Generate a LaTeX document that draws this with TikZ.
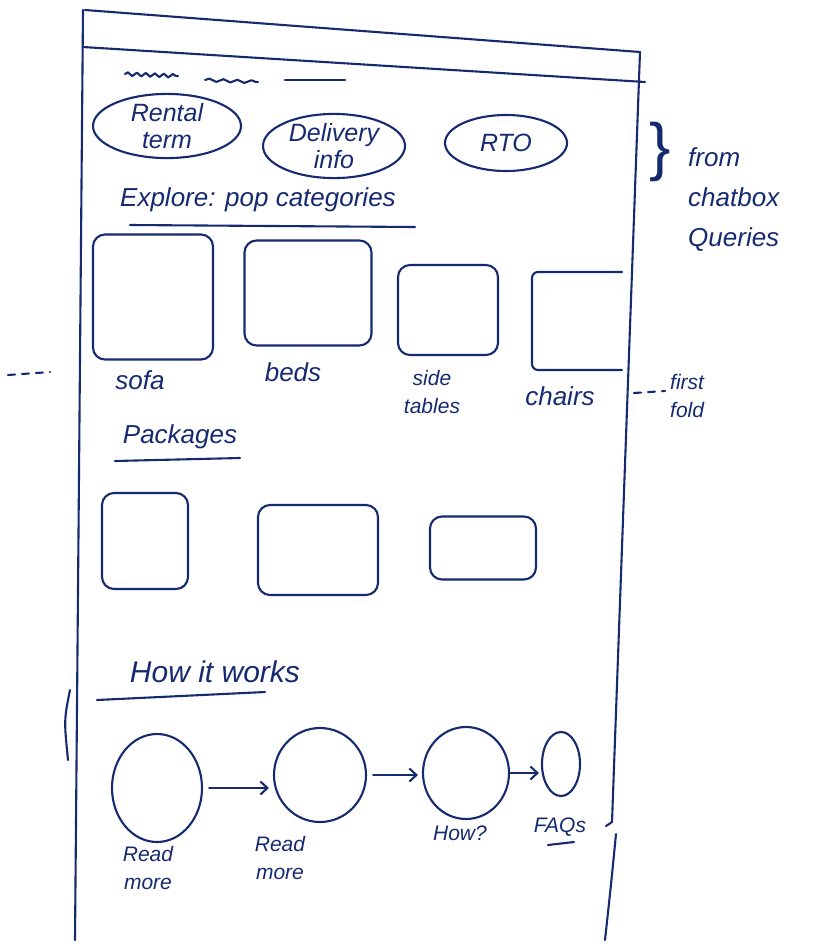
\documentclass[tikz,border=0pt]{standalone}
\usepackage{fontspec}
\setmainfont{Liberation Sans}
\usetikzlibrary{arrows.meta,decorations.pathmorphing,shapes.geometric,calc}
\definecolor{ink}{RGB}{22,42,112}
\tikzset{
  pen/.style={draw=ink, line width=2.1pt, line cap=round, line join=round},
  hand/.style={text=ink, font=\itshape\fontsize{26}{30}\selectfont, align=center, inner sep=0pt},
  smallhand/.style={text=ink, font=\itshape\fontsize{21}{28}\selectfont, align=center, inner sep=0pt},
  pill/.style={pen, ellipse, inner sep=0pt, text=ink, font=\itshape\fontsize{25}{27}\selectfont, align=center},
  card/.style={pen, rounded corners=12pt, inner sep=0pt},
  step circle/.style={pen, ellipse, inner sep=0pt},
  flow/.style={pen, -{Straight Barb[length=7pt,width=13pt]}}
}
\begin{document}
\begin{tikzpicture}[x=1pt,y=-1pt]
\useasboundingbox (0,0) rectangle (820,946);
% phone frame
\draw[pen] (85,10) -- (640,52);
\draw[pen] (83,47) -- (645,82);
\draw[pen] (83,10) -- (75,940);
\draw[pen] (640,52) -- (612,822) -- (606,826);
\draw[pen] (616,834) .. controls (611,885) .. (605,940);
\draw[pen] (70,690) .. controls (64,720) .. (68,760);
% placeholder squiggles
\draw[pen, decorate, decoration={snake, amplitude=1.8pt, segment length=9pt}] (125,74) -- (178,76);
\draw[pen, decorate, decoration={snake, amplitude=1.5pt, segment length=14pt}] (205,80) -- (258,82);
\draw[pen] (285,80) -- (345,80);
% chips
\node[pill, minimum width=148pt, minimum height=60pt] (rental) at (167,126) {Rental\\term};
\node[pill, minimum width=142pt, minimum height=64pt] (delivery) at (334,146) {Delivery\\info};
\node[pill, minimum width=122pt, minimum height=56pt] (rto) at (506,143) {RTO};
% annotation
\node[hand, font=\fontsize{64}{64}\selectfont] (brace) at (660,152) {\}};
\node[hand, align=left, anchor=west, font=\itshape\fontsize{26}{40}\selectfont] (chatnote) at (688,200) {from\\chatbox\\Queries};
% explore
\node[hand, anchor=west] (explore) at (120,200) {Explore: pop categories};
\draw[pen] (130,225) -- (415,227);
% categories
\node[card, minimum width=120pt, minimum height=125pt] (sofa) at (153,297) {};
\node[card, minimum width=127pt, minimum height=105pt] (beds) at (308,293) {};
\node[card, minimum width=100pt, minimum height=90pt] (side) at (448,310) {};
\draw[pen, rounded corners=6pt] (622,272) -- (532,272) -- (532,370) -- (622,370);
\node[hand] (sofalbl) at (140,380) {sofa};
\node[hand] (bedslbl) at (293,372) {beds};
\node[smallhand] (sidelbl) at (432,392) {side\\tables};
\node[hand] (chairslbl) at (560,396) {chairs};
\draw[pen, dash pattern=on 7pt off 7pt] (8,375) -- (50,372);
\draw[pen, dash pattern=on 7pt off 7pt] (634,393) -- (665,391);
\node[smallhand, align=left, anchor=west] (foldlbl) at (670,396) {first\\fold};
% packages
\node[hand] (packages) at (180,437) {Packages};
\draw[pen] (115,461) -- (240,458);
\node[card, minimum width=86pt, minimum height=96pt] (pk1) at (145,541) {};
\node[card, minimum width=120pt, minimum height=90pt] (pk2) at (318,550) {};
\node[card, minimum width=106pt, minimum height=63pt] (pk3) at (483,548) {};
% how it works
\node[hand, font=\itshape\fontsize{30}{32}\selectfont] (how) at (215,672) {How it works};
\draw[pen] (97,700) -- (265,692);
\node[step circle, minimum width=90pt, minimum height=108pt] (c1) at (157,788) {};
\node[step circle, minimum width=92pt, minimum height=94pt] (c2) at (320,775) {};
\node[step circle, minimum width=86pt, minimum height=92pt] (c3) at (466,773) {};
\node[step circle, minimum width=38pt, minimum height=64pt] (c4) at (561,764) {};
\draw[flow, shorten <=6pt, shorten >=4pt] (c1.east) -- (c1.east -| c2.west);
\draw[flow, shorten <=6pt, shorten >=4pt] (c2.east) -- (c2.east -| c3.west);
\draw[flow, shorten >=2pt] (c3.east) -- (c3.east -| c4.west);
\node[smallhand] (lbl1) at (148,868) {Read\\more};
\node[smallhand] (lbl2) at (280,858) {Read\\more};
\node[smallhand] (lbl3) at (460,833) {How?};
\node[smallhand] (lbl4) at (560,827) {FAQs};
\draw[pen] (548,845) -- (574,842);
\end{tikzpicture}
\end{document}
